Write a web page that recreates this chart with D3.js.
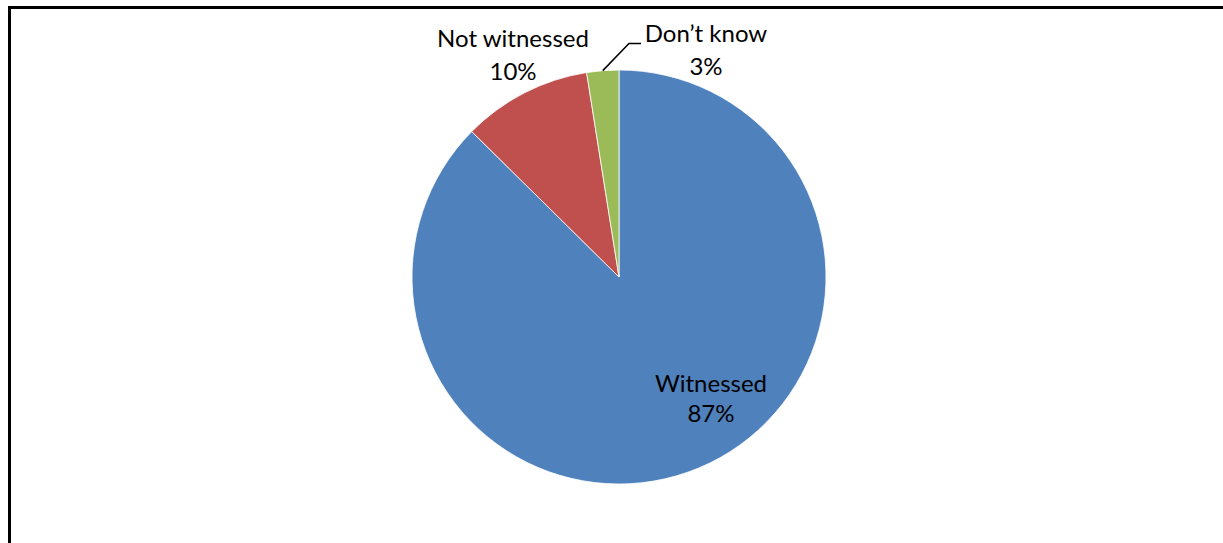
<!DOCTYPE html>
<html>
<head>
<meta charset="utf-8">
<script src="https://cdn.jsdelivr.net/npm/d3@7"></script>
<style>
  body { margin: 0; background: #fff; }
  text { font-family: Lato, "Open Sans", sans-serif; fill: #000; }
</style>
</head>
<body>
<svg id="chart" width="1223" height="543"></svg>
<script>
var categories = ["Witnessed", "Not witnessed", "Don\u2019t know"];
var values = [87.4, 10.1, 2.5];
var colors = ["#4f81bd", "#c0504d", "#9bbb59"];

var svg = d3.select("#chart");

// chart frame
svg.append("rect")
  .attr("x", 9.5).attr("y", 7.5)
  .attr("width", 1223).attr("height", 543)
  .attr("fill", "none")
  .attr("stroke", "#000")
  .attr("stroke-width", 3);

var cx = 619, cy = 277, r = 207;

var data = categories.map(function (c, i) { return { name: c, value: values[i], color: colors[i] }; });

var pie = d3.pie().sort(null).value(function (d) { return d.value; });
var arc = d3.arc().innerRadius(0).outerRadius(r);
var arcs = pie(data);

var g = svg.append("g").attr("transform", "translate(" + cx + "," + cy + ")");

g.selectAll("path")
  .data(arcs)
  .enter()
  .append("path")
  .attr("d", arc)
  .attr("fill", function (d) { return d.data.color; })
  .attr("stroke", "#fff")
  .attr("stroke-width", 0.8);

// label positions (relative to pie centre)
var labelPos = [
  { x: 92, y: 115, dy: 30 },
  { x: -106, y: -230, dy: 32.5 },
  { x: 87, y: -235, dy: 32.5 }
];

var labels = g.selectAll("text.lbl")
  .data(arcs)
  .enter()
  .append("text")
  .attr("class", "lbl")
  .attr("text-anchor", "middle")
  .style("font-size", "24px");

labels.each(function (d, i) {
  var t = d3.select(this);
  t.append("tspan").attr("x", labelPos[i].x).attr("y", labelPos[i].y).text(d.data.name);
  t.append("tspan").attr("x", labelPos[i].x).attr("y", labelPos[i].y + labelPos[i].dy)
    .text(Math.round(d.data.value) + "%");
});

// leader line for the small slice
var small = arcs[2];
var mid = (small.startAngle + small.endAngle) / 2;
var p0 = [Math.sin(mid) * r, -Math.cos(mid) * r];
g.append("polyline")
  .attr("points", [p0, [10, -233.5], [22, -233.5]].map(function (p) { return p.join(","); }).join(" "))
  .attr("fill", "none")
  .attr("stroke", "#000")
  .attr("stroke-width", 1.5);
</script>
</body>
</html>
